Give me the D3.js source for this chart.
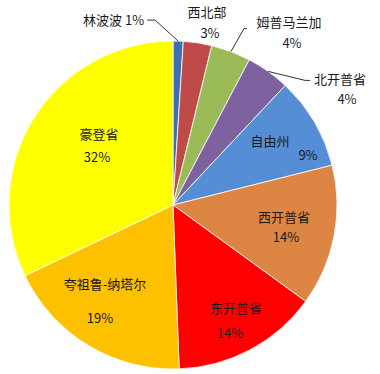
<!DOCTYPE html>
<html><head><meta charset="utf-8">
<script src="https://cdn.jsdelivr.net/npm/d3@7"></script>
<style>html,body{margin:0;padding:0;background:#fff;}svg{display:block;}</style>
</head><body>
<svg id="chart" width="380" height="374"></svg>
<script>
// data
const names = ["林波波","西北部","姆普马兰加","北开普省","自由州","西开普省","东开普省","夸祖鲁-纳塔尔","豪登省"];
const values = [1.0, 2.8, 3.9, 4.3, 9.1, 13.9, 14.4, 18.5, 32.1];
const colors = ["#3f6fb3","#be4b48","#9bbb59","#7e62a0","#558ed5","#dd8542","#ff0000","#ffc000","#ffff00"];

// label layout (offsets from pie centre): [nameDx, nameDy, pctDx, pctDy]
const labelLayout = [
  null,
  [34,-193,37,-172],
  [116,-183,119,-162],
  [167,-126,174,-106],
  [97,-64,135,-50],
  [111,12,113,32],
  [63,103,57,128],
  [-68,79,-73,113],
  [-74,-71,-76,-48]
];

const svg = d3.select("#chart");
const cx = 173, cy = 205, R = 164;
const g = svg.append("g").attr("transform", `translate(${cx},${cy})`);

const pie = d3.pie().sort(null).value(d => d);
const arcs = pie(values);
const arc = d3.arc().innerRadius(0).outerRadius(R);

g.selectAll("path.slice").data(arcs).enter().append("path")
  .attr("class","slice")
  .attr("d", arc)
  .attr("fill", (d,i) => colors[i])
  .attr("stroke", "#ffffff").attr("stroke-width", 0.8);

const font = "'Noto Sans CJK SC','Noto Sans',sans-serif";
const fs = 13;
const txtColor = "#1a1a1a";

function pt(a, r){ return [Math.sin(a)*r, -Math.cos(a)*r]; }

const lines = g.append("g");
// 林波波 leader + label
{
  const a = (arcs[0].startAngle + arcs[0].endAngle)/2;
  const p0 = pt(a, R);
  lines.append("polyline").attr("points", [p0, [p0[0]-23, p0[1]-21],[p0[0]-31, p0[1]-21]].map(p=>p.join(",")).join(" "))
    .attr("fill","none").attr("stroke","#333").attr("stroke-width",1);
  g.append("text").attr("x", p0[0]-34).attr("y", p0[1]-21).attr("dy","0.35em")
    .attr("text-anchor","end").attr("font-family",font).attr("font-size",fs).attr("fill",txtColor)
    .text(names[0] + " " + Math.round(values[0]) + "%");
}
// 姆普马兰加 leader
{
  const a = (arcs[2].startAngle + arcs[2].endAngle)/2;
  const p0 = pt(a, R);
  lines.append("polyline").attr("points", [p0, [p0[0]+13, p0[1]-23],[p0[0]+16, p0[1]-23]].map(p=>p.join(",")).join(" "))
    .attr("fill","none").attr("stroke","#333").attr("stroke-width",1);
}
// 北开普省 leader
{
  const a = (arcs[3].startAngle + arcs[3].endAngle)/2;
  const p0 = pt(a, R);
  lines.append("polyline").attr("points", [p0, [p0[0]+37, p0[1]+9],[p0[0]+42, p0[1]+9]].map(p=>p.join(",")).join(" "))
    .attr("fill","none").attr("stroke","#333").attr("stroke-width",1);
}

arcs.forEach((d,i) => {
  const L = labelLayout[i];
  if (!L) return;
  g.append("text").attr("x", L[0]).attr("y", L[1]).attr("dy","0.35em")
    .attr("text-anchor","middle").attr("font-family",font).attr("font-size",fs).attr("fill",txtColor)
    .text(names[i]);
  g.append("text").attr("x", L[2]).attr("y", L[3]).attr("dy","0.35em")
    .attr("text-anchor","middle").attr("font-family",font).attr("font-size",fs).attr("fill",txtColor)
    .text(Math.round(values[i]) + "%");
});
</script>
</body></html>
